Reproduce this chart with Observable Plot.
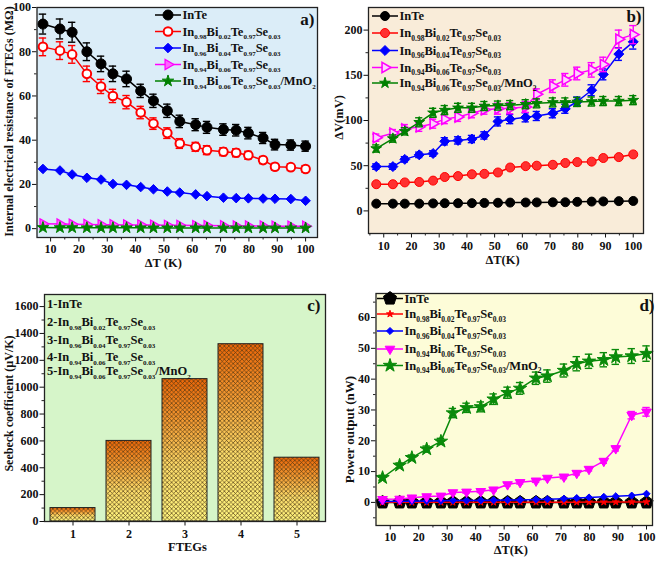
<!DOCTYPE html>
<html><head><meta charset="utf-8">
<script src="https://cdn.jsdelivr.net/npm/d3@7"></script>
<script src="https://cdn.jsdelivr.net/npm/@observablehq/plot@0.6"></script>
<style>
body{margin:0;background:#fff}
#wrap{position:relative;width:669px;height:562px;overflow:hidden;background:#fff}
.panel{position:absolute}
.panel svg{overflow:visible;max-width:none}
</style></head><body><div id="wrap"></div>
<script>
// ---------- shared ----------
const dT = [7.3, 13.3, 17.6, 22.8, 27.8, 32, 36.8, 41.8, 46.3, 51.2, 55.6, 61.2, 65.2, 71, 75.5, 79.8, 85, 89.2, 94.8, 100];
const seriesNames = ["InTe", "In_{0.98}Bi_{0.02}Te_{0.97}Se_{0.03}", "In_{0.96}Bi_{0.04}Te_{0.97}Se_{0.03}", "In_{0.94}Bi_{0.06}Te_{0.97}Se_{0.03}", "In_{0.94}Bi_{0.06}Te_{0.97}Se_{0.03}/MnO_{2}"];
const ftegLabels = ["1-InTe", "2-In_{0.98}Bi_{0.02}Te_{0.97}Se_{0.03}", "3-In_{0.96}Bi_{0.04}Te_{0.97}Se_{0.03}", "4-In_{0.94}Bi_{0.06}Te_{0.97}Se_{0.03}", "5-In_{0.94}Bi_{0.06}Te_{0.97}Se_{0.03}/MnO_{2}"];
const tempTicks = [10, 20, 30, 40, 50, 60, 70, 80, 90, 100];
const tempMinor = [5, 15, 25, 35, 45, 55, 65, 75, 85, 95];

// ---------- panel a : internal resistance (MΩ) ----------
const resInTe = [92.5, 90.3, 88.8, 80, 74.5, 70, 67.7, 62.3, 57.8, 53.3, 48.5, 47, 45.8, 44.8, 44.5, 43.2, 41, 38, 37.8, 37.3];
const resInTeErr = [4.5, 4.5, 4.5, 4, 3.5, 3.5, 3.5, 3, 3, 3, 2.8, 2.7, 2.7, 2.6, 2.6, 2.6, 2.5, 2.4, 2.3, 2.3];
const resBi02 = [82.2, 80.5, 78.8, 70, 64.3, 60, 57.2, 52.5, 47.5, 43.2, 38.5, 37, 35.5, 34.8, 34.3, 33.2, 31, 28, 27.8, 27];
const resBi02Err = [4, 4, 4, 3.5, 3.2, 3, 3, 2.8, 2.6, 2.4, 2.2, 2, 2, 1.8, 1.8, 1.8, 1.6, 1.5, 1.5, 1.5];
const resBi04 = [27, 26.3, 24.5, 23, 22.2, 20.2, 19.8, 18.8, 17.8, 16.8, 16.3, 15.5, 14.7, 14, 13.8, 13.7, 13.6, 13.5, 13.4, 12.6];
const resBi06 = [2.2, 2.1, 2, 1.9, 1.8, 1.8, 1.7, 1.7, 1.6, 1.5, 1.5, 1.4, 1.4, 1.3, 1.2, 1.2, 1.2, 1.1, 1.1, 1.1];
const resMnO2 = [0.5, 0.45, 0.45, 0.4, 0.4, 0.4, 0.4, 0.4, 0.35, 0.35, 0.35, 0.35, 0.3, 0.3, 0.3, 0.3, 0.3, 0.3, 0.3, 0.3];
const resTicks = [0, 20, 40, 60, 80, 100];
const resMinor = [10, 30, 50, 70, 90];

// ---------- panel b : ΔV (mV) ----------
const vInTe = [8, 8, 8, 8, 8.3, 8.5, 8.5, 8.6, 8.8, 9, 9.2, 9.3, 9.4, 9.5, 9.6, 10, 10.3, 10.5, 10.8, 11];
const vBi02 = [29.5, 29.5, 31.5, 32, 33.5, 37.5, 38.5, 40.5, 41, 42.5, 48, 49.5, 50, 51, 53, 54, 54.5, 58.5, 59.5, 62.5];
const vBi02Err = [1, 1, 1, 1, 1, 1.2, 1.2, 1.2, 1.2, 1.3, 1.3, 1.4, 1.4, 1.4, 1.5, 1.5, 1.5, 1.6, 1.6, 1.7];
const vBi04 = [49, 49, 57, 62, 63.5, 77, 78, 79.5, 83.5, 99, 101.5, 103.5, 105, 108, 113, 121, 133.5, 151, 173.5, 187];
const vBi04Err = [3, 3, 3, 3, 3, 4, 4, 4, 4, 5, 5, 5, 5, 5, 5, 5, 6, 6, 7, 8];
const vBi06 = [81, 86, 90.5, 93, 96.5, 101.5, 104, 108, 112, 113, 113.5, 115, 129, 138, 145, 152, 156, 162, 190, 195];
const vBi06Err = [4, 4, 5, 5, 5, 5, 5, 5, 5, 6, 6, 6, 6, 7, 7, 7, 8, 8, 10, 10];
const vMnO2 = [69, 80, 88, 98, 108.5, 111.5, 114, 114, 116, 116.5, 117, 118, 119, 120, 120, 120.5, 121, 121.5, 121.5, 122.5];
const vMnO2Err = [4, 4, 4, 5, 5, 5, 5, 5, 5, 5, 5, 5, 5, 5, 5, 5, 5, 5, 5, 5];
const vTicks = [0, 50, 100, 150, 200];
const vMinor = [25, 75, 125, 175];

// ---------- panel c : Seebeck coefficient (µV/K) ----------
const ftegs = ["1", "2", "3", "4", "5"];
const seebeck = [100, 600, 1060, 1320, 475];
const sTicks = [0, 200, 400, 600, 800, 1000, 1200, 1400, 1600];
const sMinor = [100, 300, 500, 700, 900, 1100, 1300, 1500];

// ---------- panel d : power output (nW) ----------
const pInTe = [0.001, 0.001, 0.001, 0.001, 0.001, 0.001, 0.001, 0.001, 0.001, 0.001, 0.001, 0.001, 0.002, 0.002, 0.002, 0.002, 0.003, 0.003, 0.003, 0.003];
const pBi02 = [0.01, 0.01, 0.01, 0.01, 0.02, 0.02, 0.03, 0.03, 0.04, 0.04, 0.06, 0.07, 0.07, 0.07, 0.08, 0.09, 0.1, 0.12, 0.13, 0.14];
const pBi04 = [0.3, 0.35, 0.4, 0.45, 0.5, 0.6, 0.6, 0.65, 0.7, 0.75, 0.8, 0.9, 1.0, 1.2, 1.4, 1.6, 1.8, 2.0, 2.2, 2.8];
const pBi06 = [1, 1.1, 1.5, 1.9, 2.1, 3.2, 3.4, 3.6, 4.1, 5.8, 6.5, 7, 7.9, 8.3, 9.5, 10.8, 13.4, 17.5, 28.3, 29.4];
const pBi06Err = [0.3, 0.3, 0.3, 0.3, 0.3, 0.4, 0.4, 0.4, 0.4, 0.5, 0.5, 0.5, 0.5, 0.6, 0.6, 0.6, 0.7, 0.8, 1.2, 1.4];
const pMnO2 = [8, 12, 14.5, 17.3, 19.8, 29, 30.7, 31, 33.5, 35.6, 37, 40.3, 41, 42.8, 45, 45.8, 46.3, 47.2, 47.5, 48.3];
const pMnO2Err = [0.8, 0.8, 0.9, 1, 1, 1.5, 1.5, 1.6, 1.7, 1.8, 1.9, 2, 2, 2.1, 2.3, 2.3, 2.3, 2.4, 2.4, 2.5];
const pTicks = [0, 10, 20, 30, 40, 50, 60];
const pMinor = [-5, 5, 15, 25, 35, 45, 55, 65];

// ---------- custom symbols ----------
const triRight = {draw(ctx, size) { const R = Math.sqrt(size / 1.299); const h = R * Math.sqrt(3) / 2;
  ctx.moveTo(R, 0); ctx.lineTo(-R / 2, -h); ctx.lineTo(-R / 2, h); ctx.closePath(); }};
const triDown = {draw(ctx, size) { const R = Math.sqrt(size / 1.299); const h = R * Math.sqrt(3) / 2;
  ctx.moveTo(0, R); ctx.lineTo(-h, -R / 2); ctx.lineTo(h, -R / 2); ctx.closePath(); }};
const pentagon = {draw(ctx, size) { const R = Math.sqrt(size / 2.378);
  for (let k = 0; k < 5; k++) { const a = -Math.PI / 2 + k * 2 * Math.PI / 5;
    const px = R * Math.cos(a), py = R * Math.sin(a); if (k) ctx.lineTo(px, py); else ctx.moveTo(px, py); }
  ctx.closePath(); }};
const symMap = {circle: d3.symbolCircle, diamond2: d3.symbolDiamond2, star: d3.symbolStar};
const toD3 = s => typeof s === "string" ? symMap[s] : s;

const FONT = "'Liberation Serif','Times New Roman',serif";
const wrap = document.getElementById("wrap");
const plain = d => String(d);

function seriesMarks(ys, st, errs, cap) {
  const pts = dT.map((x, i) => ({x, y: ys[i], e: errs ? errs[i] : 0}));
  const m = [Plot.line(pts, {x: "x", y: "y", stroke: st.color, strokeWidth: 1.5})];
  if (errs) {
    m.push(Plot.ruleX(pts, {x: "x", y1: d => d.y - d.e, y2: d => d.y + d.e, stroke: st.color, strokeWidth: 1.4}));
    m.push(Plot.ruleY(pts, {y: d => d.y + d.e, x1: d => d.x - cap, x2: d => d.x + cap, stroke: st.color, strokeWidth: 1.4}));
    m.push(Plot.ruleY(pts, {y: d => d.y - d.e, x1: d => d.x - cap, x2: d => d.x + cap, stroke: st.color, strokeWidth: 1.4}));
  }
  m.push(Plot.dot(pts, {x: "x", y: "y", symbol: st.symbol, r: st.r, fill: st.fill, stroke: st.stroke, strokeWidth: st.sw || 1}));
  return m;
}

function minorTicks(xMinor, yMinor, xDom, yDom, iw, ih) {
  const xs = xMinor.filter(v => v > Math.min(...xDom) && v < Math.max(...xDom));
  const ys = yMinor.filter(v => v > Math.min(...yDom) && v < Math.max(...yDom));
  return [
    Plot.ruleX(xs, {x: d => d, insetTop: ih, insetBottom: -2.5, stroke: "#222", strokeWidth: 1}),
    Plot.ruleY(ys, {y: d => d, insetRight: iw, insetLeft: -2.5, stroke: "#222", strokeWidth: 1})
  ];
}

function rich(textSel, label, fs, ss, shift) {
  const parts = label.split(/(_\{[^}]*\})/).filter(p => p.length);
  let down = false;
  for (const p of parts) {
    if (p.startsWith("_{")) {
      textSel.append("tspan").attr("font-size", ss).attr("dy", shift).text(p.slice(2, -1));
      down = true;
    } else {
      const t = textSel.append("tspan").attr("font-size", fs).text(p);
      if (down) { t.attr("dy", -shift); down = false; }
    }
  }
}

function legend(svg, items, o) {
  const g = d3.select(svg).append("g").attr("font-family", FONT).attr("font-weight", "bold")
    .attr("fill", "#111").attr("text-anchor", "start");
  items.forEach((it, i) => {
    const y = o.rows[i];
    if (it.style) {
      const s = it.style;
      g.append("line").attr("x1", o.x0).attr("x2", o.x1).attr("y1", y).attr("y2", y)
        .attr("stroke", s.color).attr("stroke-width", 1.5);
      g.append("path").attr("d", d3.symbol(toD3(s.symbol), Math.PI * s.r * s.r)())
        .attr("transform", `translate(${(o.x0 + o.x1) / 2},${y})`)
        .attr("fill", s.fill).attr("stroke", s.stroke).attr("stroke-width", s.sw || 1);
    }
    const t = g.append("text").attr("x", o.tx).attr("y", y + o.fs * 0.34).attr("font-size", o.fs)
      .attr("text-anchor", "start");
    rich(t, it.label, o.fs, o.ss, o.shift);
  });
}

function place(svg, left, top, w, h) {
  const div = document.createElement("div");
  div.className = "panel";
  div.style.left = left + "px"; div.style.top = top + "px";
  div.style.width = w + "px"; div.style.height = h + "px";
  div.appendChild(svg);
  wrap.appendChild(div);
}

function axisText(label, opts) {
  return Plot.text([label], {text: d => d, fontSize: 12.5, fontWeight: "bold", fill: "#111",
    textAnchor: "middle", lineAnchor: "middle", ...opts});
}
function tagText(label, dx, dy) {
  return Plot.text([label], {text: d => d, frameAnchor: "top-right", dx, dy, fontSize: 17, fontWeight: "bold",
    fill: "#111", textAnchor: "end", lineAnchor: "middle"});
}

function linePanel(cfg) {
  const {w, h, m, xDom, yDom, yTicks, yMin, bg, series, xLabel, yLabel, xl, yl, tag, tagPos, leg, cap, xPad} = cfg;
  const iw = w - m[1] - m[3], ih = h - m[0] - m[2];
  const marks = [Plot.frame({fill: bg, stroke: null})];
  series.forEach(s => marks.push(...seriesMarks(s.y, s.style, s.err, cap)));
  marks.push(Plot.frame({stroke: "#222", strokeWidth: 1.3}));
  marks.push(...minorTicks(tempMinor, yMin, xDom, yDom, iw, ih));
  marks.push(axisText(xLabel, {frameAnchor: "bottom", dx: xl[0], dy: xl[1]}));
  marks.push(axisText(yLabel, {frameAnchor: "left", dx: yl[0], dy: yl[1], rotate: -90, fontSize: yl[2] || 12.5}));
  marks.push(tagText(tag, tagPos[0], tagPos[1]));
  const svg = Plot.plot({
    width: w, height: h, marginTop: m[0], marginRight: m[1], marginBottom: m[2], marginLeft: m[3],
    style: {fontFamily: FONT, fontSize: "12px", fontWeight: "bold", background: "transparent", color: "#111", overflow: "visible"},
    x: {domain: xDom, ticks: tempTicks, tickSize: 4.5, tickPadding: xPad, label: null, tickFormat: plain},
    y: {domain: yDom, ticks: yTicks, tickSize: 4.5, tickPadding: 1.5, label: null, tickFormat: plain},
    marks
  });
  legend(svg, series.map((s, i) => ({label: seriesNames[i], style: s.style})), leg);
  return svg;
}

// ---------- panel a ----------
const svgA = linePanel({
  w: 335, h: 280, m: [7, 18, 43, 36.5], xDom: [5.2, 104.2], yDom: [-4, 100], yTicks: resTicks, yMin: resMinor,
  bg: "#dbedf8", cap: 1.3, xPad: 2,
  series: [
    {y: resInTe, err: resInTeErr, style: {color: "#000", symbol: "circle", r: 5, fill: "#000", stroke: "#000"}},
    {y: resBi02, err: resBi02Err, style: {color: "#ff0000", symbol: "circle", r: 4.3, fill: "#fff", stroke: "#ff0000", sw: 2}},
    {y: resBi04, style: {color: "#0000ff", symbol: "diamond2", r: 4.3, fill: "#0000ff", stroke: "#0000ff"}},
    {y: resBi06, style: {color: "#ff00ff", symbol: triRight, r: 3.8, fill: "#ff66ff", stroke: "#ff00ff", sw: 1.2}},
    {y: resMnO2, style: {color: "#008000", symbol: "star", r: 3.6, fill: "#008000", stroke: "#008000"}}
  ],
  xLabel: "ΔT (K)", xl: [-14, 25], yLabel: "Internal electrical resistance of FTEGs (MΩ)", yl: [-28, -1, 12],
  tag: "a)", tagPos: [-3, 12],
  leg: {x0: 155, x1: 181, tx: 182.5, rows: [15, 31.5, 48, 64.5, 81], fs: 12.5, ss: 7, shift: 3.5}
});
place(svgA, 0, 0, 335, 280);

// ---------- panel b ----------
const svgB = linePanel({
  w: 334, h: 280, m: [7, 26, 47, 33], xDom: [4.5, 103.7], yDom: [-25, 225], yTicks: vTicks, yMin: vMinor,
  bg: "#f9ecd9", cap: 1.3, xPad: 3,
  series: [
    {y: vInTe, style: {color: "#000", symbol: "circle", r: 4.5, fill: "#000", stroke: "#000"}},
    {y: vBi02, err: vBi02Err, style: {color: "#ff0000", symbol: "circle", r: 4.5, fill: "#ff3030", stroke: "#ff0000"}},
    {y: vBi04, err: vBi04Err, style: {color: "#0000ff", symbol: "diamond2", r: 4.5, fill: "#0000ff", stroke: "#0000ff"}},
    {y: vBi06, err: vBi06Err, style: {color: "#ff00ff", symbol: triRight, r: 3.8, fill: "#ffd0ff", stroke: "#ff00ff", sw: 1.6}},
    {y: vMnO2, err: vMnO2Err, style: {color: "#008000", symbol: "star", r: 3.4, fill: "#008000", stroke: "#008000"}}
  ],
  xLabel: "ΔT(K)", xl: [-3.5, 26.5], yLabel: "ΔV(mV)", yl: [-30, -3],
  tag: "b)", tagPos: [-2, 9],
  leg: {x0: 37, x1: 63, tx: 64.5, rows: [16, 33, 50.5, 67.5, 83], fs: 12.5, ss: 7.5, shift: 3.5}
});
place(svgB, 335, 0, 334, 280);

// ---------- panel c ----------
(function () {
  const w = 335, h = 282, m = [14, 10, 41, 44];
  const iw = w - m[1] - m[3];
  const bars = ftegs.map((n, i) => ({n, v: seebeck[i]}));
  const yDom = [0, 1690];
  const svg = Plot.plot({
    width: w, height: h, marginTop: m[0], marginRight: m[1], marginBottom: m[2], marginLeft: m[3],
    style: {fontFamily: FONT, fontSize: "12px", fontWeight: "bold", background: "transparent", color: "#111", overflow: "visible"},
    x: {type: "band", domain: ftegs, paddingInner: 0.2, paddingOuter: 0.1, tickSize: 4.5, tickPadding: 3, label: null},
    y: {domain: yDom, ticks: sTicks, tickSize: 4.5, tickPadding: 1.5, label: null, tickFormat: plain},
    marks: [
      Plot.frame({fill: "#d6f5c9", stroke: null}),
      Plot.barY(bars, {x: "n", y: "v", fill: "url(#gradC)"}),
      Plot.barY(bars, {x: "n", y: "v", fill: "url(#hatchC)"}),
      Plot.barY(bars, {x: "n", y: "v", fill: "none", stroke: "#222", strokeWidth: 1}),
      Plot.frame({stroke: "#222", strokeWidth: 1.3}),
      Plot.ruleY(sMinor, {y: d => d, insetRight: iw, insetLeft: -2.5, stroke: "#222", strokeWidth: 1}),
      axisText("FTEGs", {frameAnchor: "bottom", dx: 2.5, dy: 25.5}),
      axisText("Seebeck coefficient (µV/K)", {frameAnchor: "left", dx: -35, dy: -4.5, rotate: -90, fontSize: 12}),
      tagText("c)", -5, 11)
    ]
  });
  const defs = d3.select(svg).insert("defs", ":first-child");
  const g = defs.append("linearGradient").attr("id", "gradC").attr("x1", 0).attr("y1", 0).attr("x2", 0).attr("y2", 1);
  [[0, "#ea6508"], [0.3, "#f49a32"], [0.62, "#fcdc6a"], [1, "#fff57e"]].forEach(([o, c]) =>
    g.append("stop").attr("offset", o).attr("stop-color", c));
  const p = defs.append("pattern").attr("id", "hatchC").attr("patternUnits", "userSpaceOnUse").attr("width", 4.4).attr("height", 4.4);
  p.append("path").attr("d", "M0,0L4.4,4.4M4.4,0L0,4.4").attr("stroke", "#4a3412").attr("stroke-width", 0.8).attr("stroke-opacity", 0.8).attr("fill", "none");
  legend(svg, ftegLabels.map(l => ({label: l})), {tx: 47, rows: [23.3, 42, 59.5, 77, 91], fs: 12.5, ss: 7, shift: 4});
  place(svg, 0, 280, w, h);
})();

// ---------- panel d ----------
const svgD = linePanel({
  w: 334, h: 282, m: [13, 17, 37, 40.5], xDom: [5, 102.1], yDom: [-7.5, 67.8], yTicks: pTicks, yMin: pMinor,
  bg: "#fdfcd8", cap: 1.3, xPad: 2,
  series: [
    {y: pInTe, style: {color: "#000", symbol: pentagon, r: 6, fill: "#000", stroke: "#000"}},
    {y: pBi02, style: {color: "#ff0000", symbol: "star", r: 2.2, fill: "#ff0000", stroke: "#ff0000"}},
    {y: pBi04, style: {color: "#0000ff", symbol: "diamond2", r: 3.2, fill: "#0000ff", stroke: "#0000ff"}},
    {y: pBi06, err: pBi06Err, style: {color: "#ff00ff", symbol: triDown, r: 3.6, fill: "#ff00ff", stroke: "#ff00ff"}},
    {y: pMnO2, err: pMnO2Err, style: {color: "#0a8a0a", symbol: "star", r: 4.2, fill: "#0a8a0a", stroke: "#0a8a0a"}}
  ],
  xLabel: "ΔT(K)", xl: [-3.5, 24.5], yLabel: "Power output (nW)", yl: [-26, 20, 13],
  tag: "d)", tagPos: [2, 12],
  leg: {x0: 42, x1: 68, tx: 69.5, rows: [18.5, 34, 51, 69, 85.5], fs: 12.5, ss: 7.5, shift: 3.5}
});
place(svgD, 335, 280, 334, 282);
</script>
</body></html>
